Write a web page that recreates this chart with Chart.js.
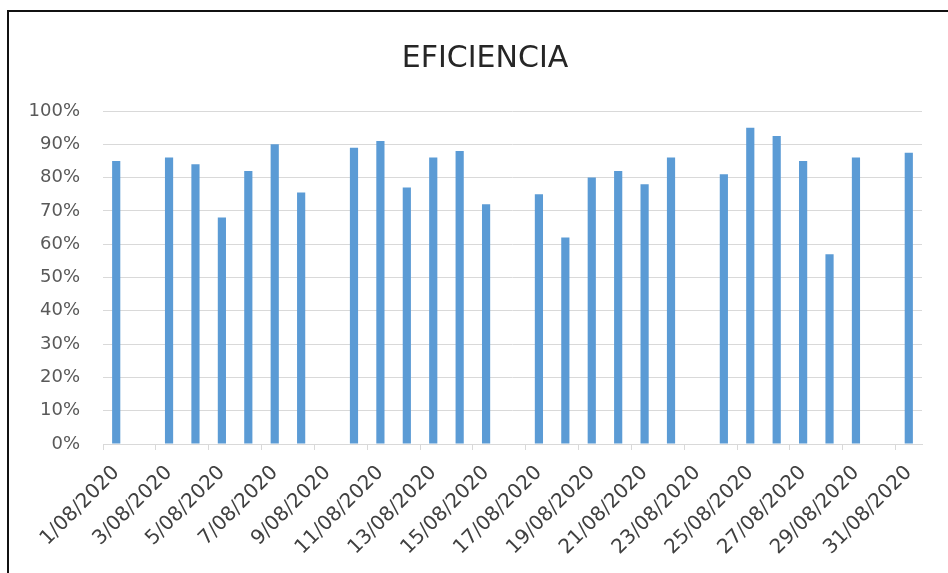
<!DOCTYPE html>
<html>
<head>
<meta charset="utf-8">
<script src="https://cdn.jsdelivr.net/npm/chart.js@4/dist/chart.umd.min.js"></script>
<style>
  html, body { margin: 0; padding: 0; background: #fff; overflow: hidden; }
  body { width: 948px; height: 573px; position: relative; }
  #wrap { position: absolute; left: 0; top: 0; width: 970px; height: 573px; }
  .edge { position: absolute; background: #111; }
  #edgeTop { left: 7px; top: 10px; width: 960px; height: 2px; }
  #edgeLeft { left: 7px; top: 10px; width: 2px; height: 580px; }
</style>
</head>
<body>
<div id="wrap"><canvas id="chart" width="970" height="573"></canvas></div>
<div class="edge" id="edgeTop"></div>
<div class="edge" id="edgeLeft"></div>
<script>
// Daily efficiency, August 2020 (percent); null = no production that day
const days = [
  '1/08/2020','2/08/2020','3/08/2020','4/08/2020','5/08/2020','6/08/2020','7/08/2020',
  '8/08/2020','9/08/2020','10/08/2020','11/08/2020','12/08/2020','13/08/2020','14/08/2020',
  '15/08/2020','16/08/2020','17/08/2020','18/08/2020','19/08/2020','20/08/2020','21/08/2020',
  '22/08/2020','23/08/2020','24/08/2020','25/08/2020','26/08/2020','27/08/2020','28/08/2020',
  '29/08/2020','30/08/2020','31/08/2020'
];
const eficiencia = [
  85, null, 86, 84, 68, 82, 90,
  75.5, null, 89, 91, 77, 86, 88,
  72, null, 75, 62, 80, 82, 78,
  86, null, 81, 95, 92.5, 85, 57,
  86, null, 87.5
];
const yTicks = [0, 10, 20, 30, 40, 50, 60, 70, 80, 90, 100];

const FONT = '"DejaVu Sans", "Liberation Sans", sans-serif';

new Chart(document.getElementById('chart'), {
  type: 'bar',
  data: {
    labels: days,
    datasets: [{
      label: 'EFICIENCIA',
      data: eficiencia,
      backgroundColor: '#5b9bd5',
      borderWidth: 0,
      categoryPercentage: 1,
      barPercentage: 0.31,
      yAxisID: 'y'
    }]
  },
  options: {
    responsive: false,
    animation: false,
    devicePixelRatio: 1,
    layout: { padding: 0 },
    plugins: {
      legend: { display: false },
      tooltip: { enabled: false },
      title: {
        display: true,
        text: 'EFICIENCIA',
        color: '#262626',
        font: { family: FONT, size: 30, weight: 'normal' },
        padding: { top: 41, bottom: 34 }
      }
    },
    scales: {
      x: {
        offset: true,
        grid: {
          offset: true,
          drawOnChartArea: false,
          drawTicks: true,
          tickLength: 6,
          color: (ctx) => (ctx.index % 2 === 0 ? '#d9d9d9' : 'rgba(0,0,0,0)')
        },
        border: { display: true, color: '#d9d9d9', width: 1 },
        ticks: {
          autoSkip: false,
          minRotation: 45,
          maxRotation: 45,
          padding: 11,
          color: '#404040',
          font: { family: FONT, size: 20 },
          callback: (v, i) => (i % 2 === 0 ? days[i] : '')
        },
        afterFit: (scale) => { scale.height = 129; }
      },
      y: {
        min: 0,
        max: 100,
        afterBuildTicks: (scale) => { scale.ticks = yTicks.map(v => ({ value: v })); },
        grid: { color: '#d9d9d9', drawTicks: false, lineWidth: 1 },
        border: { display: false },
        ticks: {
          padding: 23,
          color: '#595959',
          font: { family: FONT, size: 18 },
          callback: (v) => v + '%'
        },
        afterFit: (scale) => { scale.width = 103; }
      },
      // empty right-hand margin of the plot
      yRight: {
        position: 'right',
        min: 0,
        max: 100,
        grid: { display: false, drawTicks: false },
        border: { display: false },
        ticks: { display: false },
        afterFit: (scale) => { scale.width = 48; }
      }
    }
  }
});
</script>
</body>
</html>
